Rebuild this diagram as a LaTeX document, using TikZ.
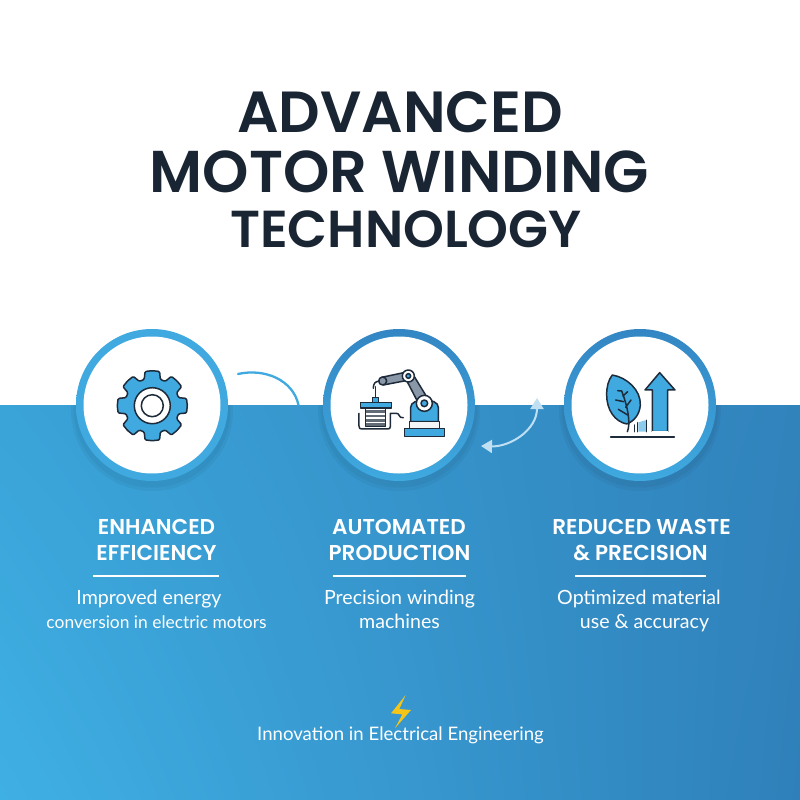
\documentclass[tikz,border=0pt]{standalone}
\usepackage{fontspec}
\usetikzlibrary{arrows.meta,shadings}
\newfontfamily\titlefont{Poppins}[UprightFont=* SemiBold,BoldFont=* SemiBold]
\newfontfamily\bodyfont{Lato}
\definecolor{ink}{HTML}{1A2534}
\definecolor{iconink}{HTML}{1E2B3A}
\definecolor{sky}{HTML}{3FA9E0}
\definecolor{skydark}{HTML}{3386C3}
\definecolor{steel}{HTML}{8A97A8}
\definecolor{bolt}{HTML}{F5C518}
\definecolor{bandll}{HTML}{3FB0E4}
\definecolor{bandul}{HTML}{3AA3D8}
\definecolor{bandur}{HTML}{3183BC}
\definecolor{bandlr}{HTML}{2F80BA}
\definecolor{pale}{HTML}{BFDFF2}
\tikzset{
  x=1pt,y=-1pt,
  titletext/.style={anchor=base,text=ink,inner sep=0,font=\titlefont},
  headtext/.style={anchor=base,text=white,inner sep=0,font=\titlefont\fontsize{21.5}{24}\selectfont},
  bodytext/.style={anchor=base,text=white,inner sep=0,font=\bodyfont\fontsize{19.6}{22}\selectfont},
  ring/.style={circle,minimum size=137pt,inner sep=0,draw=none,fill=white,line width=0},
  icon/.style={draw=iconink,line width=1.5pt,line join=round,line cap=round},
  rulewhite/.style={draw=white,line width=1.2pt},
}
\begin{document}
\begin{tikzpicture}
\useasboundingbox (0,0) rectangle (800,800);
\fill[white] (0,0) rectangle (800,800);
% background band
\shade[lower left=bandll,upper left=bandul,upper right=bandur,lower right=bandlr] (0,405) rectangle (800,800);

% circles
\foreach \cx/\top/\bot/\nm in {152/sky/sky/a,399/skydark/sky/b,640/skydark/sky/c}{
  \begin{scope}
    \clip (0,405) rectangle (800,800);
    \fill[black,opacity=0.04] (\cx,410) circle (81);
    \fill[black,opacity=0.04] (\cx,409) circle (78.5);
  \end{scope}
  \shade[top color=\top,bottom color=\bot] (\cx,405) circle (76);
}
\node[ring] (ringa) at (152,405) {};
\node[ring] (ringb) at (399,405) {};
\node[ring] (ringc) at (640,405) {};

% gear
\begin{scope}[shift={(152.3,405.7)}]
  \def\Ro{35}\def\Rr{27.5}
  \draw[icon,fill=sky,rounded corners=1.2pt] (0:\Ro)
   \foreach \k in {0,...,7}{
     -- ({\k*45+12}:\Ro) -- ({\k*45+17}:\Rr) -- ({\k*45+28}:\Rr)
     -- ({\k*45+33}:\Ro) -- ({\k*45+45}:\Ro)
   } -- cycle;
  \draw[icon,fill=white] (0,0) circle (18);
  \draw[line width=1.5pt,draw=iconink,fill=white] (0,0) circle (11);
\end{scope}

% robot
\begin{scope}[shift={(310,320)},x=0.3333pt,y=-0.3333pt]
  \draw[icon,fill=sky] (302,305) -- (302,262) .. controls (302,232) and (385,232) .. (385,262) -- (385,305) -- cycle;
  \draw[icon,fill=white!90!steel] (298,305) rectangle (388,325);
  \draw[icon,fill=sky] (283,325) rectangle (404,349);
  \draw[icon,fill=steel] (285,172) -- (328,255) -- (356,240) -- (307,160) -- cycle;
  \draw[icon,fill=steel] (295,155) -- (215,172) -- (220,195) -- (298,180) -- cycle;
  \draw[icon,fill=white] (343,250) circle (24);
  \draw[icon,fill=sky] (343,250) circle (10);
  \draw[icon,fill=white] (295,168) circle (18);
  \draw[icon,fill=sky] (295,168) circle (7);
  \draw[icon,fill=steel] (218,183) circle (12);
  \draw[icon] (208,183) .. controls (195,185) and (190,190) .. (190,205);
  \draw[icon] (196,200) -- (196,232);
  \draw[icon,fill=sky] (187,232) rectangle (205,247);
  \draw[icon,fill=sky] (152,247) rectangle (245,264);
  \draw[icon,fill=white] (167,264) rectangle (227,320);
  \foreach \yy in {275,288,301,314}{
    \draw[draw=iconink!70,line width=2.4pt] (169,\yy) -- (225,\yy);
  }
  \draw[icon] (147,280) -- (147,318) .. controls (147,325) and (150,327) .. (155,327) -- (233,327) .. controls (238,327) and (241,325) .. (241,320) -- (241,280) -- (258,280) .. controls (270,278) and (265,296) .. (280,293);
\end{scope}

% leaf + arrow
\begin{scope}[shift={(555,320)},x=0.3333pt,y=-0.3333pt]
  \draw[icon,fill=sky] (172,165) .. controls (215,172) and (258,210) .. (256,255) .. controls (254,285) and (235,305) .. (215,312) .. controls (180,305) and (155,270) .. (155,225) .. controls (155,200) and (160,180) .. (172,165) -- cycle;
  \draw[icon] (217,335) .. controls (226,315) and (222,270) .. (200,213);
  \draw[icon] (200,213) -- (188,212);
  \draw[icon] (204,228) -- (218,215);
  \draw[icon] (206,245) -- (182,240);
  \draw[icon] (212,262) -- (228,240);
  \draw[icon] (218,285) -- (190,268);
  \fill[sky!60] (250,307) -- (275,300) -- (275,335) -- (250,335) -- cycle;
  \draw[icon] (238,315) -- (238,335);
  \draw[icon] (248,308) -- (248,335);
  \draw[icon] (275,301) -- (275,335);
  \draw[icon,fill=sky] (314,158) -- (360,210) -- (338,210) -- (338,335) -- (292,335) -- (292,210) -- (270,210) -- cycle;
  \draw[white,line width=1.8pt] (292,337) -- (338,337);
  \draw[icon] (167,351) -- (358,351);
\end{scope}

% connectors
\coordinate (arcstart) at (238,374);
\coordinate (arcend) at (298.5,405);
\draw[sky,line width=2.3pt,line cap=round] (arcstart) .. controls (265,368) and (293,380) .. (arcend);
\coordinate (dblstart) at (481,446);
\coordinate (dblend) at (537,398);
\draw[{Triangle[length=11pt,width=13pt,fill=pale]}-{Triangle[length=11pt,width=13pt,fill=pale]},draw=pale,line width=2pt] (dblstart) .. controls (510,447) and (537,430) .. (dblend);

% title
\node[titletext,font=\titlefont\fontsize{58}{60}\selectfont] (t1) at (400,132) {ADVANCED};
\node[titletext,font=\titlefont\fontsize{59}{60}\selectfont] (t2) at (399.5,192) {MOTOR WINDING};
\node[titletext,font=\titlefont\fontsize{52}{60}\selectfont] (t3) at (406,247) {TECHNOLOGY};

% column 1
\node[headtext] (h1a) at (156.5,534) {ENHANCED};
\node[headtext] (h1b) at (156.5,560.5) {EFFICIENCY};
\coordinate (r1a) at (93,576); \coordinate (r1b) at (219,576);
\draw[rulewhite] (r1a) -- (r1b);
\node[bodytext] (b1a) at (149,604) {Improved energy};
\node[bodytext,font=\bodyfont\fontsize{17.4}{22}\selectfont] (b1b) at (156.5,628) {conversion in electric motors};
% column 2
\node[headtext] (h2a) at (399,534) {AUTOMATED};
\node[headtext] (h2b) at (399.5,560.5) {PRODUCTION};
\coordinate (r2a) at (333,576); \coordinate (r2b) at (466,576);
\draw[rulewhite] (r2a) -- (r2b);
\node[bodytext] (b2a) at (399.5,604) {Precision winding};
\node[bodytext] (b2b) at (399.5,628) {machines};
% column 3
\node[headtext] (h3a) at (641.5,534) {REDUCED WASTE};
\node[headtext] (h3b) at (640.5,560.5) {\& PRECISION};
\coordinate (r3a) at (575,576); \coordinate (r3b) at (706,576);
\draw[rulewhite] (r3a) -- (r3b);
\node[bodytext] (b3a) at (639,604) {Optimized material};
\node[bodytext] (b3b) at (644.5,628) {use \& accuracy};

% footer
\begin{scope}[shift={(240,680)},x=0.3333pt,y=-0.3333pt]
  \fill[bolt] (497,45) -- (453,100) -- (487,103) -- (465,145) -- (513,90) -- (478,87) -- cycle;
\end{scope}
\node[bodytext,font=\bodyfont\fontsize{18.6}{22}\selectfont] (foot) at (400.5,740) {Innovation in Electrical Engineering};
\end{tikzpicture}
\end{document}
